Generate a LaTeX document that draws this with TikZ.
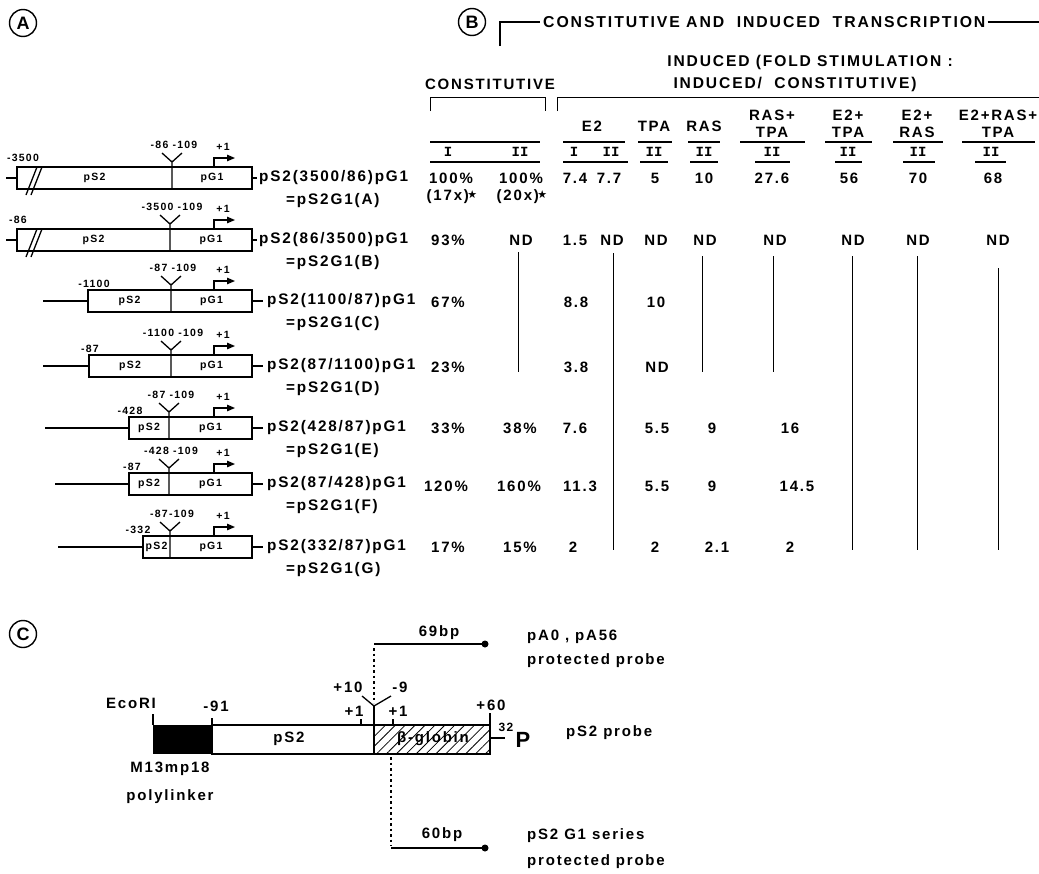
\documentclass[tikz,border=0pt]{standalone}
\usepackage{fontspec}
\setmainfont{Liberation Sans}[LetterSpace=12]
\newfontfamily\plainf{Liberation Sans}
\newfontfamily\romf{Liberation Mono}
\newfontfamily\symf{DejaVu Sans}
\usetikzlibrary{arrows.meta,patterns.meta}
\tikzset{
  lw/.style={line width=1.3pt},
  vl/.style={line width=0.9pt},
  hl/.style={line width=1.4pt},
  circ/.style={circle,draw,line width=1.4pt,minimum size=27pt,inner sep=0pt,font=\plainf\bfseries\fontsize{18}{18}\selectfont},
  sm/.style={inner sep=0pt,font=\bfseries\fontsize{10.5}{11}\selectfont},
  big/.style={inner sep=0pt,font=\bfseries\fontsize{15.3}{17}\selectfont},
  val/.style={inner sep=0pt,font=\bfseries\fontsize{15}{16}\selectfont},
  hdr/.style={inner sep=0pt,align=center,font=\bfseries\fontsize{15}{17}\selectfont},
  ttl/.style={inner sep=0pt,font=\bfseries\fontsize{15.8}{16}\selectfont},
  rom/.style={inner sep=0pt,font=\romf\bfseries\fontsize{14}{14}\selectfont},
  cl/.style={inner sep=0pt,font=\bfseries\fontsize{15}{16}\selectfont},
  probe/.style={line width=2.8pt},
  dots/.style={line width=1.1pt,dash pattern=on 2.5pt off 3pt},
  prom/.style={lw,-{Triangle[length=8pt,width=6.5pt]}},
}
\def\bxr{252}\def\labx{259}\def\stubx{257}\def\llo{20}
\newcommand\cons[9]{%
  \pgfmathsetmacro\cxs{(#3+#4)/2}%
  \pgfmathsetmacro\cxg{(#4+\bxr)/2}%
  \draw[lw] (#2,#1) -- (#3,#1);
  \draw[lw] (#3,#1-11) rectangle (\bxr,#1+11);
  \draw[lw] (#4,#1+11) -- (#4,#1-16) -- ++(-10,-9) (#4,#1-16) -- ++(10,-9);
  \draw[prom] (214,#1-11) -- (214,#1-20) -- (235,#1-20);
  \draw[lw] (\bxr,#1) -- (\stubx,#1);
  \node[sm] (pa#1) at (223,#1-31) {+1};
  \node[sm] (jn#1) at (#4+2,#1-33) {#7};
  \node[sm] (ll#1) at (#5,#1-\llo) {#6};
  \node[sm] (ps#1) at (\cxs,#1) {pS2};
  \node[sm] (pg#1) at (\cxg,#1) {pG1};
  \node[big,anchor=west] (nm#1) at (\labx,#1) {#8};
  \node[big,anchor=west] (eq#1) at (286,#1+23) {#9};
}
\newcommand\brk[1]{\draw[lw] (26,#1+17) -- (37,#1-11) (31,#1+17) -- (42,#1-11);}
\newcommand\st{\kern-1.5pt{\symf\fontsize{11}{11}\selectfont\raisebox{2pt}{★}}}
\begin{document}
\begin{tikzpicture}[x=1pt,y=-1pt]
\useasboundingbox (0,0) rectangle (1039,873);
% ---------------- Panel A
\node[circ] (cA) at (23,23) {A};
\cons{178}{6}{17}{172}{23}{-3500}{-86 -109}{pS2(3500/86)pG1}{=pS2G1(A)}
\brk{178}
\cons{240}{6}{17}{170}{18}{-86}{-3500 -109}{pS2(86/3500)pG1}{=pS2G1(B)}
\brk{240}
\def\labx{267}\def\stubx{263}\def\llo{17}
\cons{301}{43}{88}{171}{94}{-1100}{-87 -109}{pS2(1100/87)pG1}{=pS2G1(C)}
\cons{366}{43}{89}{171}{90}{-87}{-1100 -109}{pS2(87/1100)pG1}{=pS2G1(D)}
\cons{428}{45}{129}{169}{130}{-428}{-87 -109}{pS2(428/87)pG1}{=pS2G1(E)}
\cons{484}{55}{129}{169}{132}{-87}{-428 -109}{pS2(87/428)pG1}{=pS2G1(F)}
\cons{547}{58}{143}{170}{138}{-332}{-87-109}{pS2(332/87)pG1}{=pS2G1(G)}
% ---------------- Panel B
\node[circ] (cB) at (472,22) {B};
\draw[hl] (500,46) -- (500,22) -- (540,22);
\node[ttl,anchor=west] (ttl) at (543,22) {CONSTITUTIVE AND\ \ INDUCED\ \ TRANSCRIPTION};
\draw[hl] (ttl.east) ++(2,0) -- (1039,22);
\node[hdr,font=\bfseries\fontsize{15.6}{17}\selectfont] (ind1) at (810,62) {INDUCED (FOLD STIMULATION :};
\node[hdr,font=\bfseries\fontsize{15.6}{17}\selectfont] (ind2) at (795,84) {INDUCED/\ \ CONSTITUTIVE)};
\node[hdr] (con) at (490,84) {CONSTITUTIVE};
\draw[vl] (430,111) -- (430,97) -- (545,97) -- (545,111);
\draw[vl] (557,111) -- (557,97) -- (1039,97);
\node[hdr] (hE2) at (592,126) {E2};
\node[hdr] (hTPA) at (654,126) {TPA};
\node[hdr] (hRAS) at (704,126) {RAS};
\node[hdr] (hRT) at (772,124) {RAS+\\TPA};
\node[hdr] (hET) at (848,124) {E2+\\TPA};
\node[hdr] (hER) at (917,124) {E2+\\RAS};
\node[hdr] (hERT) at (998,124) {E2+RAS+\\TPA};
\foreach \a/\b in {430/540,563/625,638/672,688/720,740/805,825/872,893/943,962/1035}
  \draw[hl] (\a,142) -- (\b,142);
\foreach \a/\b in {430/540,563/628,640/668,690/718,755/790,835/862,903/935,975/1006}
  \draw[hl] (\a,162) -- (\b,162);
\node[rom] (r1) at (448,152) {I};
\node[rom] (r2) at (520,152) {II};
\node[rom] (r3) at (574,152) {I};
\node[rom] (r4) at (611,152) {II};
\node[rom] (r5) at (654,152) {II};
\node[rom] (r6) at (704,152) {II};
\node[rom] (r7) at (772,152) {II};
\node[rom] (r8) at (848,152) {II};
\node[rom] (r9) at (918,152) {II};
\node[rom] (r10) at (991,152) {II};
% values
\node[val] (vA1) at (451,178) {100\%};
\node[val] (vA2) at (521,178) {100\%};
\node[val] (vA3) at (575,178) {7.4};
\node[val] (vA4) at (609,178) {7.7};
\node[val] (vA5) at (655,178) {5};
\node[val] (vA6) at (704,178) {10};
\node[val] (vA7) at (772,178) {27.6};
\node[val] (vA8) at (849,178) {56};
\node[val] (vA9) at (918,178) {70};
\node[val] (vA10) at (993,178) {68};
\node[val] (sA1) at (452,197) {(17x)\st};
\node[val] (sA2) at (522,197) {(20x)\st};
\node[val] (vB1) at (448,240) {93\%};
\node[val] (vB2) at (521,240) {ND};
\node[val] (vB3) at (575,240) {1.5};
\node[val] (vB4) at (612,240) {ND};
\node[val] (vB5) at (656,240) {ND};
\node[val] (vB6) at (705,240) {ND};
\node[val] (vB7) at (775,240) {ND};
\node[val] (vB8) at (853,240) {ND};
\node[val] (vB9) at (918,240) {ND};
\node[val] (vB10) at (998,240) {ND};
\node[val] (vC1) at (448,302) {67\%};
\node[val] (vC3) at (576,302) {8.8};
\node[val] (vC5) at (656,302) {10};
\node[val] (vD1) at (448,367) {23\%};
\node[val] (vD3) at (576,367) {3.8};
\node[val] (vD5) at (657,367) {ND};
\node[val] (vE1) at (448,428) {33\%};
\node[val] (vE2) at (520,428) {38\%};
\node[val] (vE3) at (575,428) {7.6};
\node[val] (vE5) at (657,428) {5.5};
\node[val] (vE6) at (712,428) {9};
\node[val] (vE7) at (790,428) {16};
\node[val] (vF1) at (446,486) {120\%};
\node[val] (vF2) at (519,486) {160\%};
\node[val] (vF3) at (580,486) {11.3};
\node[val] (vF5) at (657,486) {5.5};
\node[val] (vF6) at (712,486) {9};
\node[val] (vF7) at (797,486) {14.5};
\node[val] (vG1) at (448,547) {17\%};
\node[val] (vG2) at (520,547) {15\%};
\node[val] (vG3) at (573,547) {2};
\node[val] (vG5) at (655,547) {2};
\node[val] (vG6) at (717,547) {2.1};
\node[val] (vG7) at (790,547) {2};
\foreach \x/\a/\b in {518/252/372,613/253/550,702/256/372,773/256/372,852/256/550,917/256/550,998/268/550}
  \draw[vl] (\x,\a) -- (\x,\b);
% ---------------- Panel C
\node[circ] (cC) at (23,634) {C};
\fill (153,725) rectangle (212,754);
\fill[pattern={Lines[angle=45,distance=7pt,line width=0.8pt]}] (374,725) rectangle (490,754);
\draw[lw] (212,725) rectangle (490,754);
\draw[line width=2pt] (374,706) -- (374,754);
\draw[lw] (362,696) -- (374,706) -- (391,696);
\draw[lw] (153,725) -- (153,714) (212,725) -- (212,718) (361,725) -- (361,719)
  (393,725) -- (393,719) (490,725) -- (490,713) (490,738) -- (505,738);
\node[cl] (eco) at (131,703) {EcoRI};
\node[cl] (m91) at (216,706) {-91};
\node[cl] (p10) at (348,687) {+10};
\node[cl] (m9) at (400,687) {-9};
\node[cl] (p1a) at (354,711) {+1};
\node[cl] (p1b) at (398,711) {+1};
\node[cl] (p60) at (491,705) {+60};
\node[inner sep=0pt,font=\bfseries\fontsize{12}{12}\selectfont] (p32) at (506,727) {32};
\node[inner sep=0pt,font=\plainf\bfseries\fontsize{22}{22}\selectfont] (pP) at (523,740) {P};
\node[cl] (cps2) at (289,739) {pS2};
\node[cl] (glob) at (433,739) {β-globin};
\node[cl] (m13) at (170,769) {M13mp18};
\node[cl] (poly) at (170,797) {polylinker};
\coordinate (t1) at (374,644);
\coordinate (t2) at (485,644);
\draw[probe] (t1) -- (t2);
\fill (t2) circle (3.5);
\node[cl] (bp69) at (439,633) {69bp};
\draw[dots] (374,648) -- (374,703);
\draw[dots] (391,757) -- (391,846);
\coordinate (b1) at (391,848);
\coordinate (b2) at (485,848);
\draw[probe] (b1) -- (b2);
\fill (b2) circle (3.5);
\node[cl] (bp60) at (442,835) {60bp};
\node[cl,anchor=west] (pa0) at (527,637) {pA0 , pA56};
\node[cl,anchor=west] (pp1) at (527,661) {protected probe};
\node[cl,anchor=west] (ps2p) at (566,733) {pS2 probe};
\node[cl,anchor=west] (g1s) at (527,836) {pS2 G1 series};
\node[cl,anchor=west] (pp2) at (527,862) {protected probe};
\end{tikzpicture}
\end{document}
